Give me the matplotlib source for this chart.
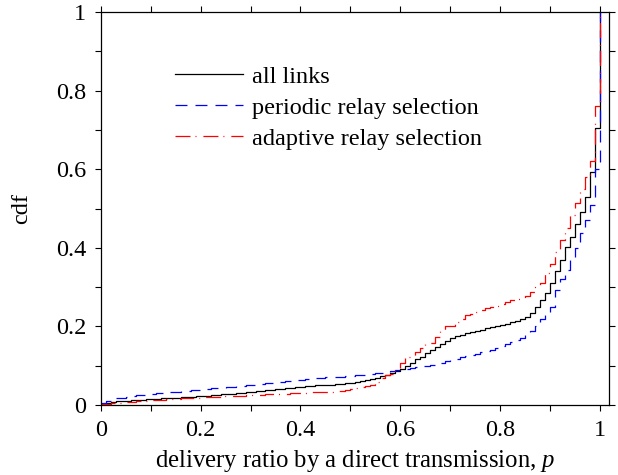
import matplotlib
matplotlib.use('Agg')
import matplotlib.pyplot as plt
import numpy as np

plt.rcParams['font.family'] = ['Liberation Serif', 'DejaVu Serif']
plt.rcParams['mathtext.fontset'] = 'custom'
plt.rcParams['mathtext.rm'] = 'Liberation Serif'
plt.rcParams['mathtext.it'] = 'Liberation Serif:italic'
plt.rcParams['lines.scale_dashes'] = False

# delivery ratio grid (0.01 bins) and cdf values
ratio = np.round(np.arange(0, 1.001, 0.01), 2)

all_links = [
    0.003, 0.006, 0.008, 0.009, 0.010, 0.011, 0.012, 0.013, 0.013, 0.014,
    0.015, 0.016, 0.017, 0.017, 0.018, 0.019, 0.020, 0.021, 0.021, 0.022,
    0.023, 0.024, 0.025, 0.026, 0.027, 0.028, 0.029, 0.030, 0.031, 0.033,
    0.034, 0.035, 0.036, 0.037, 0.039, 0.040, 0.041, 0.043, 0.044, 0.046,
    0.047, 0.048, 0.049, 0.050, 0.050, 0.051, 0.052, 0.053, 0.054, 0.055,
    0.056, 0.058, 0.060, 0.063, 0.066, 0.069, 0.073, 0.077, 0.082, 0.087,
    0.092, 0.100, 0.108, 0.116, 0.123, 0.132, 0.140, 0.148, 0.156, 0.163,
    0.170, 0.175, 0.179, 0.183, 0.186, 0.189, 0.192, 0.195, 0.198, 0.201,
    0.204, 0.207, 0.210, 0.214, 0.218, 0.225, 0.234, 0.250, 0.267, 0.285,
    0.310, 0.341, 0.369, 0.401, 0.428, 0.460, 0.492, 0.530, 0.594, 0.704,
    1.0]

periodic = [
    0.005, 0.010, 0.014, 0.017, 0.019, 0.021, 0.023, 0.025, 0.026, 0.027,
    0.028, 0.030, 0.031, 0.032, 0.033, 0.034, 0.035, 0.036, 0.037, 0.038,
    0.039, 0.041, 0.042, 0.043, 0.044, 0.045, 0.047, 0.048, 0.049, 0.051,
    0.052, 0.053, 0.054, 0.055, 0.057, 0.058, 0.059, 0.060, 0.062, 0.063,
    0.064, 0.066, 0.067, 0.068, 0.069, 0.070, 0.071, 0.071, 0.072, 0.073,
    0.074, 0.076, 0.077, 0.078, 0.080, 0.081, 0.082, 0.084, 0.086, 0.088,
    0.090, 0.092, 0.094, 0.096, 0.098, 0.100, 0.102, 0.104, 0.107, 0.111,
    0.115, 0.118, 0.121, 0.124, 0.127, 0.131, 0.134, 0.137, 0.141, 0.145,
    0.150, 0.155, 0.160, 0.165, 0.170, 0.178, 0.188, 0.200, 0.218, 0.235,
    0.250, 0.293, 0.320, 0.343, 0.375, 0.400, 0.437, 0.470, 0.510, 0.600,
    1.0]

adaptive = [
    0.002, 0.003, 0.004, 0.005, 0.006, 0.007, 0.008, 0.009, 0.010, 0.011,
    0.012, 0.013, 0.013, 0.014, 0.015, 0.016, 0.017, 0.017, 0.018, 0.019,
    0.020, 0.020, 0.021, 0.021, 0.022, 0.022, 0.023, 0.023, 0.024, 0.025,
    0.025, 0.026, 0.026, 0.027, 0.028, 0.028, 0.029, 0.029, 0.030, 0.030,
    0.031, 0.031, 0.032, 0.032, 0.033, 0.034, 0.034, 0.035, 0.036, 0.038,
    0.040, 0.042, 0.045, 0.049, 0.051, 0.058, 0.068, 0.076, 0.080, 0.095,
    0.108, 0.123, 0.123, 0.135, 0.145, 0.157, 0.157, 0.172, 0.188, 0.200,
    0.200, 0.210, 0.220, 0.229, 0.232, 0.237, 0.242, 0.246, 0.250, 0.252,
    0.257, 0.262, 0.266, 0.269, 0.270, 0.278, 0.288, 0.300, 0.310, 0.335,
    0.360, 0.390, 0.420, 0.450, 0.483, 0.515, 0.550, 0.580, 0.620, 0.760,
    1.0]

fig = plt.figure(figsize=(6.18, 4.75), dpi=100)
ax = fig.add_axes([0.1634, 0.1474, 0.822, 0.8273])

ax.step(ratio, all_links, where='post', color='k', lw=0.9, label='all links')
ax.step(ratio, periodic, where='post', color='b', lw=0.9,
        dashes=(8.6, 5.8), label='periodic relay selection')
ax.step(ratio, adaptive, where='post', color='r', lw=0.9,
        dashes=(10.8, 3.6, 0.7, 5.0), label='adaptive relay selection')

ax.set_xlim(0, 1.019)
ax.set_ylim(0, 1)
ticks = np.round(np.arange(0, 1.001, 0.1), 1)
ax.set_xticks(ticks)
ax.set_yticks(ticks)
lbls = ['%g' % t if i % 2 == 0 else '' for i, t in enumerate(ticks)]
ax.set_xticklabels(lbls)
ax.set_yticklabels(lbls)
ax.tick_params(direction='out', length=4.5, width=0.8, labelsize=17.5,
               top=True, right=True, pad=6)
for s in ax.spines.values():
    s.set_linewidth(0.9)

ax.set_xlabel('delivery ratio by a direct transmission, $p$', fontsize=17.8, labelpad=5)
ax.set_ylabel('cdf', fontsize=17.5, labelpad=17)

ax.legend(loc='upper left', bbox_to_anchor=(0.127, 0.888), frameon=False,
          fontsize=17.5, handlelength=2.8, handletextpad=0.37, labelspacing=0.37,
          borderaxespad=0)

fig.savefig('out.png', dpi=100)
